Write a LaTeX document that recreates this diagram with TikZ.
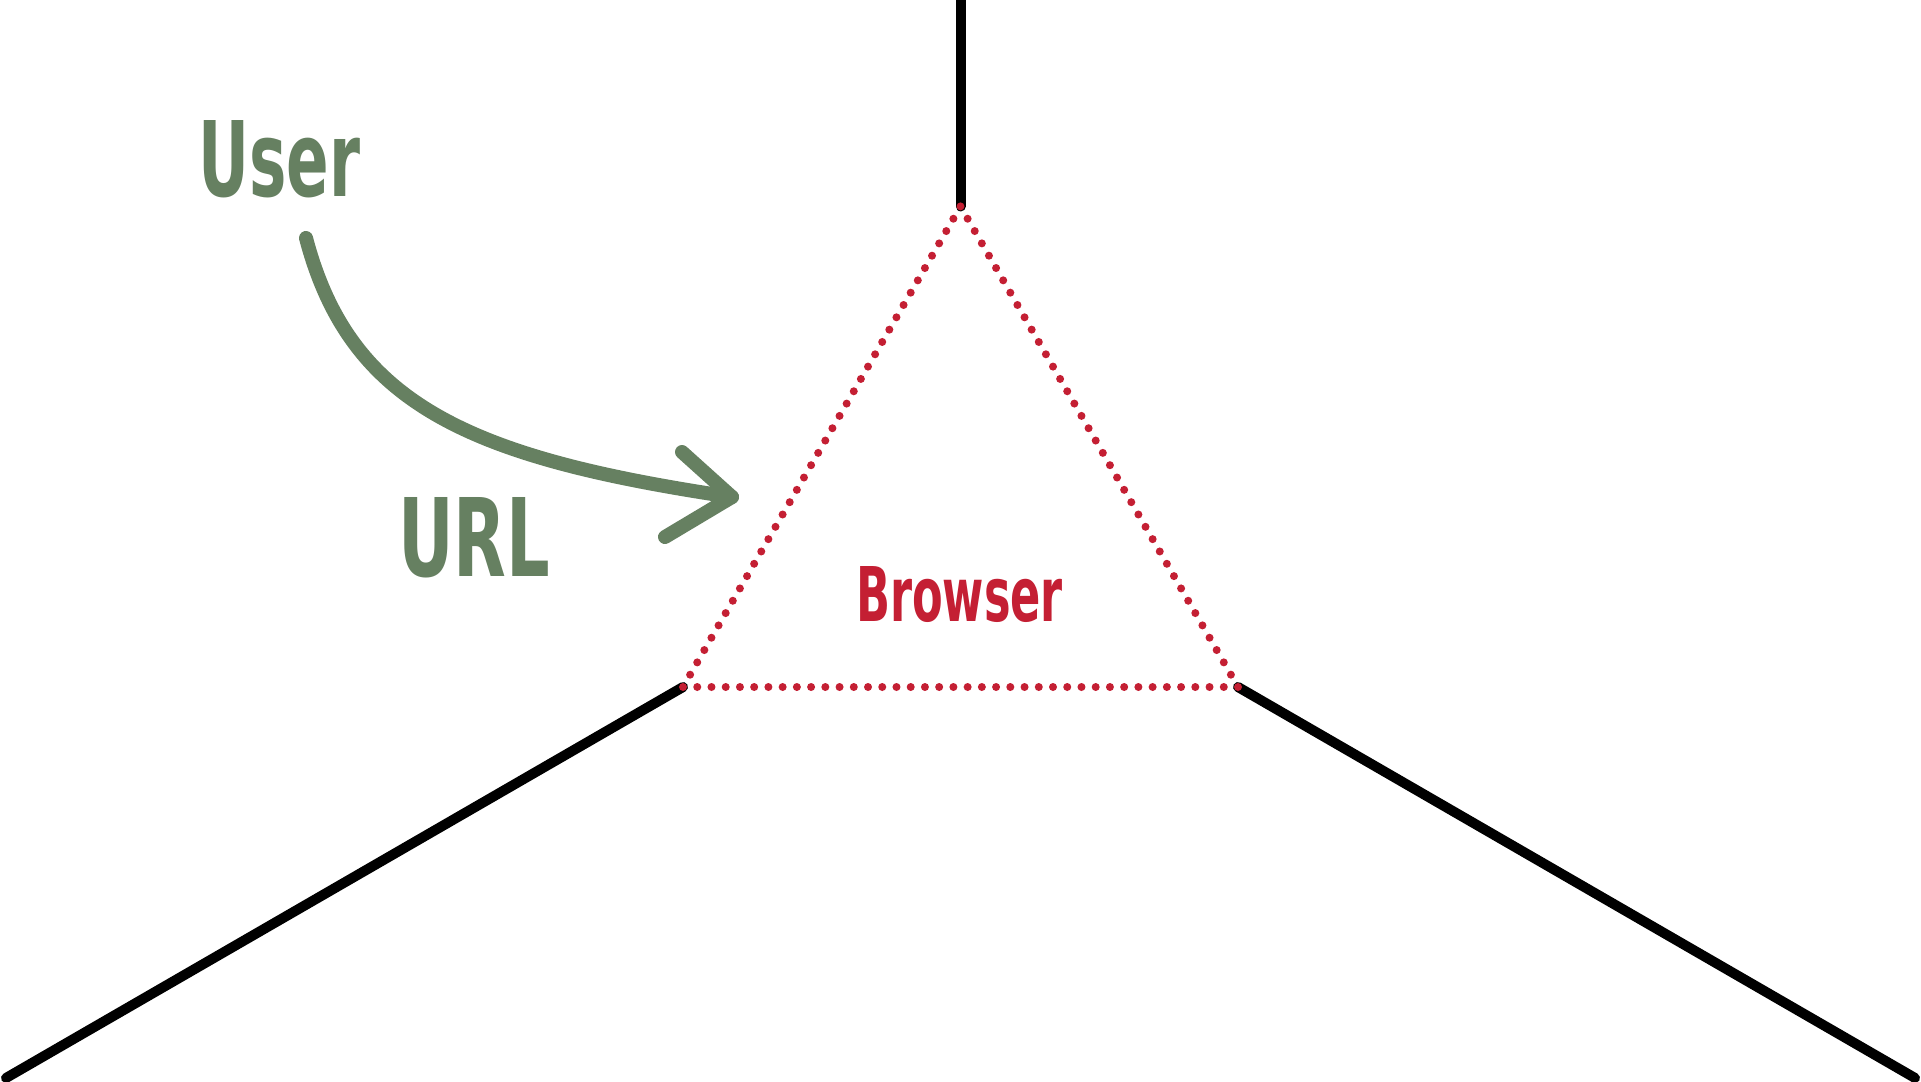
\documentclass[tikz,border=0pt]{standalone}
\usepackage{fontspec}
\setmainfont{DejaVu Sans}
\usepackage{graphicx}
\definecolor{usergreen}{HTML}{668061}
\definecolor{browserred}{HTML}{C41F33}
\tikzset{
  axisline/.style={draw=black, line width=10pt, line cap=round},
  dotline/.style={draw=browserred, line width=8pt, line cap=round, dash pattern=on 0pt off 14.23pt},
  arrowline/.style={draw=usergreen, line width=14pt, line cap=round, line join=round},
  lbl/.style={inner sep=0pt, outer sep=0pt, anchor=south west, font=\bfseries}
}
\begin{document}
\begin{tikzpicture}[x=1pt,y=-1pt]
\useasboundingbox (0,0) rectangle (1921,1081);
\clip (0,0) rectangle (1921,1081);
\fill[white] (0,0) rectangle (1921,1081);

% triangle corners
\coordinate (A) at (960.5,206.4);
\coordinate (BL) at (683,687);
\coordinate (BR) at (1238,687);
% free ends of the black lines
\coordinate (Top) at (960.5,-20);
\coordinate (Lend) at (6,1078);
\coordinate (Rend) at (1915,1078);

\draw[axisline] (A) -- (Top);
\draw[axisline] (BL) -- (Lend);
\draw[axisline] (BR) -- (Rend);

\draw[dotline] (A) -- (BR) -- (BL) -- cycle;

% labels
\node[lbl, text=usergreen] (user) at (198,198) {\resizebox{162pt}{76pt}{User}};
\node[lbl, text=usergreen] (url) at (398,578) {\resizebox{152pt}{79pt}{URL}};
\node[lbl, text=browserred] (browser) at (856,623) {\resizebox{207pt}{55pt}{Browser}};

% arrow
\coordinate (S) at (306,238);
\coordinate (T) at (732,497);
\coordinate (W1) at (682,452);
\coordinate (W2) at (665,537);
\draw[arrowline] (S) .. controls (350,405) and (470,458) .. (T);
\draw[arrowline] (W1) -- (T) -- (W2);
\end{tikzpicture}
\end{document}
